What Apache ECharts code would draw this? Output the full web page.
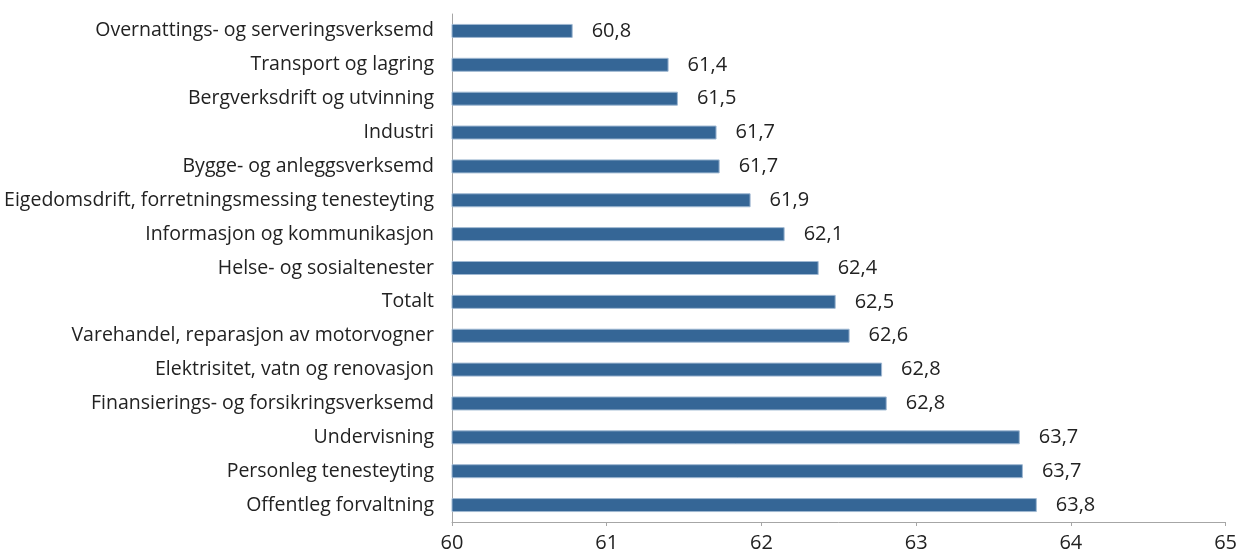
<!DOCTYPE html>
<html>
<head>
<meta charset="utf-8">
<script src="https://cdn.jsdelivr.net/npm/echarts@6/dist/echarts.min.js"></script>
<style>html,body{margin:0;padding:0;background:#fff}#c{width:1240px;height:555px}</style>
</head>
<body>
<div id="c"></div>
<script>
const categories = [
  "Overnattings- og serveringsverksemd",
  "Transport og lagring",
  "Bergverksdrift og utvinning",
  "Industri",
  "Bygge- og anleggsverksemd",
  "Eigedomsdrift, forretningsmessing tenesteyting",
  "Informasjon og kommunikasjon",
  "Helse- og sosialtenester",
  "Totalt",
  "Varehandel, reparasjon av motorvogner",
  "Elektrisitet, vatn og renovasjon",
  "Finansierings- og forsikringsverksemd",
  "Undervisning",
  "Personleg tenesteyting",
  "Offentleg forvaltning"
];
const values = [60.78, 61.40, 61.46, 61.71, 61.73, 61.93, 62.15, 62.37, 62.48, 62.57, 62.78, 62.81, 63.67, 63.69, 63.78];
const xTicks = [60, 61, 62, 63, 64, 65];

const FONT = "Open Sans";
const chart = echarts.init(document.getElementById('c'), null, {renderer: 'canvas'});
chart.setOption({
  animation: false,
  grid: {left: 452, right: 12, top: 14, bottom: 33, containLabel: false},
  xAxis: {
    type: 'value', min: xTicks[0], max: xTicks[xTicks.length - 1], interval: 1,
    axisLine: {show: true, lineStyle: {color: '#a6a6a6', width: 1}},
    axisTick: {show: true, length: 4, lineStyle: {color: '#a6a6a6'}},
    splitLine: {show: false},
    axisLabel: {color: '#222', fontSize: 20, fontFamily: FONT, margin: 11}
  },
  yAxis: {
    type: 'category', data: categories, inverse: true,
    axisLine: {show: true, lineStyle: {color: '#a6a6a6', width: 1}},
    axisTick: {show: false},
    axisLabel: {color: '#222', fontSize: 19.5, fontFamily: FONT, margin: 18}
  },
  series: [{
    type: 'bar', data: values, barWidth: 14,
    itemStyle: {color: '#356696', borderColor: '#9fb8d2', borderWidth: 1},
    label: {
      show: true, position: 'right', distance: 19, color: '#222', fontSize: 20, fontFamily: FONT,
      formatter: p => p.value.toFixed(1).replace('.', ',')
    }
  }]
});
</script>
</body>
</html>
